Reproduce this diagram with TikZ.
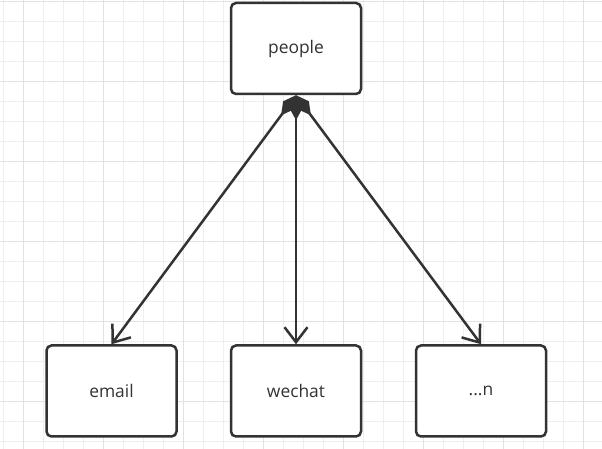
\documentclass[tikz,border=0pt]{standalone}
\usepackage{fontspec}
\setmainfont{Open Sans}
\usepackage{xcolor}
\usepackage{tikz}
\usetikzlibrary{arrows.meta}
\definecolor{inkGray}{HTML}{333333}
\definecolor{minorGray}{HTML}{EFEFEF}
\definecolor{majorGray}{HTML}{E2E2E2}
\tikzset{
box/.style = {rectangle, draw=inkGray, line width=0.05cm, rounded corners=0.1cm,
              fill=white, text=inkGray, minimum width=#1, minimum height=1.82cm,
              font=\fontsize{9.9pt}{12pt}\selectfont},
box/.default = 2.6cm % width of the box
}
\tikzset{
link/.style = {draw=inkGray, line width=0.05cm,
               {Diamond[length=0.5cm, width=0.27cm]}-{Straight Barb[length=0.3cm, width=0.46cm]}}
}
\tikzset{
minorLine/.style = {draw=minorGray, line width=0.02cm},
majorLine/.style = {draw=majorGray, line width=0.02cm}
}

\begin{document}
\begin{tikzpicture}
  % Background grid
    \useasboundingbox (0,0) rectangle (12.04,8.98);
    \fill[white] (0,0) rectangle (12.04,8.98);
    \begin{scope}
      \clip (0,0) rectangle (12.04,8.98);
      \draw[minorLine, step=0.4cm, shift={(0.066,0.146)}] (-1,-1) grid (13,10);
      \draw[majorLine, step=1.6cm, shift={(0.466,0.946)}] (-2,-2) grid (13,10);
    \end{scope}

  % Boxes
    \node[box] (peopleBox) at (5.92,8.01) {people};
    \node[box] (emailBox) at (2.23,1.16) {email};
    \node[box] (wechatBox) at (5.92,1.16) {wechat};
    \node[box] (nBox) at (9.62,1.16) {...n};

  % Lines
    \draw[link] (peopleBox.south) -- (emailBox.north);
    \draw[link] (peopleBox.south) -- (wechatBox.north);
    \draw[link] (peopleBox.south) -- (nBox.north);
\end{tikzpicture}
\end{document}
